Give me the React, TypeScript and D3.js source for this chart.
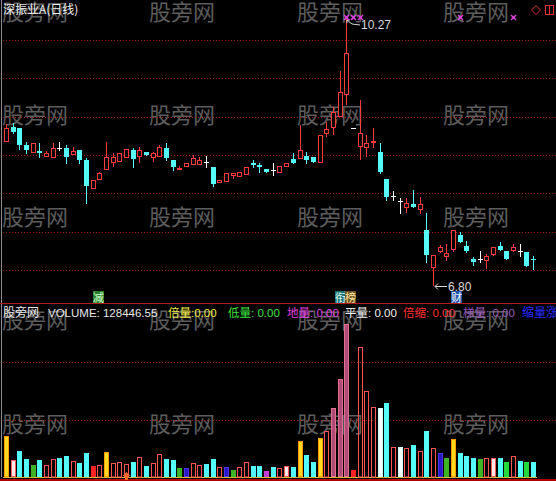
import React from 'react';
import * as d3 from 'd3';

const W = 556;
const H = 481;

// Daily candles, oldest first
const candleOpen = [
  8.67, 8.86, 8.85, 8.63, 8.53, 8.55, 8.48, 8.46, 8.59, 8.59,
  8.50, 8.57, 8.44, 8.06, 8.17, 8.31, 8.40, 8.41, 8.46, 8.57,
  8.48, 8.54, 8.46, 8.48, 8.59, 8.44, 8.32, 8.35, 8.37, 8.37,
  8.41, 8.34, 8.13, 8.15, 8.23, 8.21, 8.24, 8.40, 8.37, 8.32,
  8.30, 8.26, 8.35, 8.45, 8.45, 8.49, 8.48, 8.39, 8.77, 8.85,
  8.99, 9.28, 8.85, 8.61, 8.59, 8.65, 8.54, 8.19, 7.97, 7.90,
  7.81, 7.86, 7.79, 7.52, 7.03, 7.24, 7.17, 7.26, 7.46, 7.32,
  7.15, 7.15, 7.12, 7.20, 7.32, 7.25, 7.25, 7.25, 7.24, 7.15,
];
const candleHigh = [
  8.90, 8.92, 8.85, 8.67, 8.65, 8.65, 8.55, 8.65, 8.67, 8.63,
  8.61, 8.57, 8.46, 8.18, 8.28, 8.67, 8.53, 8.53, 8.58, 8.59,
  8.61, 8.54, 8.54, 8.63, 8.65, 8.44, 8.36, 8.39, 8.50, 8.48,
  8.49, 8.34, 8.18, 8.26, 8.26, 8.28, 8.35, 8.43, 8.40, 8.32,
  8.39, 8.36, 8.40, 8.52, 8.89, 8.54, 8.48, 8.76, 8.93, 9.12,
  9.60, 10.27, 8.85, 9.21, 8.76, 8.85, 8.66, 8.19, 8.03, 7.94,
  7.94, 8.04, 7.95, 7.75, 7.20, 7.33, 7.34, 7.52, 7.50, 7.38,
  7.17, 7.25, 7.21, 7.30, 7.37, 7.25, 7.34, 7.34, 7.24, 7.19,
];
const candleLow = [
  8.67, 8.79, 8.58, 8.53, 8.53, 8.48, 8.48, 8.46, 8.57, 8.40,
  8.50, 8.39, 7.88, 8.06, 8.17, 8.31, 8.35, 8.41, 8.46, 8.35,
  8.40, 8.50, 8.41, 8.48, 8.44, 8.31, 8.32, 8.35, 8.37, 8.37,
  8.35, 8.09, 8.13, 8.15, 8.19, 8.21, 8.24, 8.35, 8.28, 8.28,
  8.24, 8.26, 8.35, 8.40, 8.45, 8.40, 8.41, 8.39, 8.74, 8.76,
  8.99, 9.15, 8.85, 8.44, 8.48, 8.59, 8.27, 7.91, 7.92, 7.75,
  7.75, 7.82, 7.73, 7.11, 6.80, 7.23, 7.12, 7.24, 7.37, 7.24,
  7.07, 7.11, 7.02, 7.19, 7.26, 7.14, 7.24, 7.19, 7.06, 7.02,
];
const candleClose = [
  8.85, 8.80, 8.63, 8.57, 8.65, 8.53, 8.53, 8.59, 8.59, 8.48,
  8.55, 8.44, 8.09, 8.18, 8.26, 8.48, 8.48, 8.53, 8.58, 8.45,
  8.57, 8.50, 8.52, 8.61, 8.46, 8.35, 8.33, 8.39, 8.46, 8.44,
  8.41, 8.12, 8.18, 8.26, 8.26, 8.28, 8.35, 8.37, 8.34, 8.28,
  8.30, 8.36, 8.40, 8.40, 8.57, 8.44, 8.41, 8.76, 8.84, 9.06,
  9.32, 9.83, 8.85, 8.79, 8.65, 8.68, 8.28, 7.95, 7.97, 7.90,
  7.88, 7.82, 7.86, 7.20, 7.20, 7.30, 7.23, 7.52, 7.37, 7.25,
  7.11, 7.15, 7.19, 7.30, 7.26, 7.14, 7.30, 7.25, 7.06, 7.14,
];

// Daily volume (lots) and the colour class the volume indicator assigns to each day
const volumeLots = [
  356500, 148000, 226000, 157000, 104000, 148000, 104000, 157000, 165000, 183000,
  139000, 122000, 209000, 96000, 104000, 217000, 122000, 130000, 113000, 130000,
  174000, 96000, 122000, 200000, 157000, 148000, 78000, 78000, 122000, 104000,
  113000, 157000, 87000, 87000, 61000, 87000, 130000, 96000, 96000, 52000,
  87000, 78000, 96000, 87000, 313000, 191000, 130000, 339000, 400000, 600000,
  852000, 1330000, 61000, 1130000, 748000, 609000, 600000, 643000, 261000, 261000,
  252000, 278000, 226000, 400000, 252000, 209000, 165000, 330000, 209000, 183000,
  165000, 157000, 165000, 165000, 165000, 130000, 183000, 139000, 130000, 128446.55,
];
const volumeTone = [
  'gold', 'pale', 'aqua', 'aqua', 'green', 'aqua', 'hollow', 'hollow', 'aqua', 'aqua',
  'hollow', 'aqua', 'aqua', 'solid', 'hollow', 'gold', 'hollow', 'hollow', 'hollow', 'aqua',
  'hollow', 'aqua', 'hollow', 'hollow', 'aqua', 'aqua', 'green', 'blue', 'hollow', 'hollow',
  'aqua', 'aqua', 'hollow', 'blue', 'green', 'hollow', 'hollow', 'aqua', 'aqua', 'violet',
  'aqua', 'hollow', 'pale', 'aqua', 'gold', 'aqua', 'aqua', 'gold', 'hollow', 'mauve',
  'mauve', 'mauve', 'solid', 'hollow', 'hollow', 'hollow', 'white', 'aqua', 'hollow', 'white',
  'hollow', 'aqua', 'hollow', 'aqua', 'hollow', 'blue', 'green', 'gold', 'aqua', 'aqua',
  'aqua', 'green', 'hollow', 'pale', 'aqua', 'lime', 'hollow', 'aqua', 'lime', 'aqua',
];

const priceTicks = [7.0, 7.5, 8.0, 8.5, 9.0, 9.5, 10.0];
const volumeTicks = [500000, 1000000];

// Days carrying an info-mine flag, and event tags under the price panel
const infoMineDays = [51, 52, 53, 68, 76];
const tagDays = [14, 51, 67];
const tagTexts = ['减', '衔榜', '财'];
const volumeArrowDays = [18];

const legendNames = ['倍量', '低量', '地量', '平量', '倍缩', '梯量'];
const legendValues = [0, 0, 0, 0, 0, 0];
const watermarkText = '股旁网';
const title = '深振业A(日线)';

const toneStyle: Record<string, { fill: string; stroke: string; hollow?: boolean }> = {
  gold: { fill: '#ffd820', stroke: '#ff9c00' },
  pale: { fill: '#ffe6e6', stroke: '#ff5a5a' },
  aqua: { fill: '#54fcfc', stroke: '#54fcfc' },
  green: { fill: '#3cb424', stroke: '#3cb424' },
  lime: { fill: '#22d83c', stroke: '#22d83c' },
  hollow: { fill: '#000000', stroke: '#ff5454', hollow: true },
  solid: { fill: '#ff2424', stroke: '#ff2424' },
  blue: { fill: '#2a18c8', stroke: '#4a34e0' },
  mauve: { fill: '#b04a78', stroke: '#e0708e' },
  violet: { fill: '#c040d8', stroke: '#c040d8' },
  white: { fill: '#f2fffa', stroke: '#d0ffff' },
};

const tagStyle = [
  [{ bg: '#2a7f2a', fg: '#d0ffd0' }],
  [{ bg: '#1f7272', fg: '#e0ffff' }, { bg: '#6a5420', fg: '#ffe2a0' }],
  [{ bg: '#2050a8', fg: '#ffffff' }],
];

const FONT = "'Liberation Sans', 'Noto Sans CJK SC', sans-serif";
const CJK = "'Noto Sans CJK SC', sans-serif";

export default function App() {
  const days = d3.range(candleOpen.length);
  const x = d3.scalePoint<number>().domain(days).range([2.67, 536.3]).padding(0.5);
  const y = d3.scaleLinear().domain([7, 10]).range([270.2, 39.8]);
  const vBase = 477;
  const vy = d3.scaleLinear().domain([0, 1000000]).range([vBase, 362]);

  const cx = (i: number) => Math.round(x(i) as number);
  const py = (p: number) => Math.round(y(p));

  const hiIdx = d3.maxIndex(candleHigh);
  const loIdx = d3.minIndex(candleLow);

  const watermarkCols = [2, 149, 297, 443];
  const watermarkRows = [20, 123, 225, 328, 432];

  const legendX = [168, 228, 287, 345, 403, 463];
  const legendColors = ['#f0e840', '#40e040', '#e040e0', '#f0f0f0', '#ff3030', '#9a5cb8'];

  return (
    <div style={{ position: 'absolute', left: 0, top: 0, width: W, height: H, background: '#000' }}>
      <svg width={W} height={H} style={{ display: 'block' }}>
        <rect width={W} height={H} fill="#000" />

        {/* watermark grid */}
        {watermarkRows.map((ry) =>
          watermarkCols.map((rx) => (
            <text key={`${rx}-${ry}`} x={rx} y={ry} fontFamily={CJK} fontSize={22} fill="#5c5c5c">
              {watermarkText}
            </text>
          ))
        )}

        {/* dotted grid */}
        {priceTicks.map((t) => (
          <line key={`pg${t}`} x1={3} x2={W} y1={py(t) + 0.5} y2={py(t) + 0.5}
            stroke="#9a1c1c" strokeDasharray="1 2" />
        ))}
        {volumeTicks.map((t) => (
          <line key={`vg${t}`} x1={3} x2={W} y1={Math.round(vy(t)) + 0.5} y2={Math.round(vy(t)) + 0.5}
            stroke="#9a1c1c" strokeDasharray="1 2" />
        ))}

        {/* frame */}
        <line x1={1.5} x2={1.5} y1={0} y2={vBase} stroke="#8c8c8c" />
        <line x1={0} x2={W} y1={303.5} y2={303.5} stroke="#b01818" />
        <line x1={3} x2={537} y1={vBase + 0.5} y2={vBase + 0.5} stroke="#d8b838" />
        <line x1={0} x2={W} y1={480} y2={480} stroke="#b00000" strokeWidth={2} />

        {/* candles */}
        {days.map((i) => {
          const o = candleOpen[i], c = candleClose[i], h = candleHigh[i], l = candleLow[i];
          const xc = cx(i);
          const left = xc - 2;
          const yo = py(o), yc = py(c), yh = py(h), yl = py(l);
          if (c > o) {
            return (
              <g key={`c${i}`} stroke="#ff3c3c" fill="#000">
                <line x1={xc + 0.5} x2={xc + 0.5} y1={yh} y2={yc} />
                <line x1={xc + 0.5} x2={xc + 0.5} y1={yo} y2={yl} />
                <rect x={left + 0.5} y={yc + 0.5} width={4} height={Math.max(yo - yc - 1, 1)} />
              </g>
            );
          }
          if (c < o) {
            return (
              <g key={`c${i}`}>
                <line x1={xc + 0.5} x2={xc + 0.5} y1={yh} y2={yl + 1} stroke="#54fcfc" />
                <rect x={left} y={yo} width={5} height={Math.max(yc - yo, 1)} fill="#54fcfc" />
              </g>
            );
          }
          return (
            <g key={`c${i}`} stroke="#ffffff">
              {yh !== yl && <line x1={xc + 0.5} x2={xc + 0.5} y1={yh} y2={yl + 1} />}
              <line x1={left} x2={left + 5} y1={yo + 0.5} y2={yo + 0.5} />
            </g>
          );
        })}

        {/* high / low annotations */}
        <g stroke="#d8d8d8" fill="none">
          <polyline points={`${cx(hiIdx) + 1},${py(candleHigh[hiIdx]) + 1} ${cx(hiIdx) + 6},${py(candleHigh[hiIdx]) + 5} ${cx(hiIdx) + 14},${py(candleHigh[hiIdx]) + 6}`} />
          <polyline points={`${cx(hiIdx) + 4},${py(candleHigh[hiIdx]) + 1} ${cx(hiIdx) + 1},${py(candleHigh[hiIdx]) + 1} ${cx(hiIdx) + 1},${py(candleHigh[hiIdx]) + 4}`} />
          <line x1={cx(loIdx) + 2} x2={cx(loIdx) + 14} y1={py(candleLow[loIdx]) + 0.5} y2={py(candleLow[loIdx]) + 0.5} />
          <polyline points={`${cx(loIdx) + 5},${py(candleLow[loIdx]) - 2.5} ${cx(loIdx) + 2},${py(candleLow[loIdx]) + 0.5} ${cx(loIdx) + 5},${py(candleLow[loIdx]) + 3.5}`} />
        </g>
        <text x={cx(hiIdx) + 15} y={py(candleHigh[hiIdx]) + 10} fontFamily={FONT} fontSize={12} fill="#d8d8d8">
          {candleHigh[hiIdx].toFixed(2)}
        </text>
        <text x={cx(loIdx) + 15} y={py(candleLow[loIdx]) + 4.5} fontFamily={FONT} fontSize={12} fill="#d8d8d8">
          {candleLow[loIdx].toFixed(2)}
        </text>

        {/* info-mine flags */}
        {infoMineDays.map((d) => {
          const xc = cx(d) + 0.5;
          const yc = 17.5;
          return (
            <g key={`m${d}`} stroke="#e040e0" strokeWidth={1.4}>
              <line x1={xc - 2.5} x2={xc + 2.5} y1={yc - 2.5} y2={yc + 2.5} />
              <line x1={xc - 2.5} x2={xc + 2.5} y1={yc + 2.5} y2={yc - 2.5} />
              <rect x={xc - 1} y={yc - 1} width={2} height={2} fill="#e040e0" stroke="none" />
            </g>
          );
        })}

        {/* title and corner icons */}
        <text x={3} y={14} fontFamily={CJK} fontSize={12} fill="#f0f0f0">{title}</text>
        <g stroke="#e03030" fill="none">
          <polygon points="536,5.5 540.5,10 536,14.5 531.5,10" />
          <rect x={545.5} y={5.5} width={8} height={9} />
          <line x1={549.5} x2={549.5} y1={5.5} y2={14.5} />
        </g>

        {/* event tags */}
        {tagDays.map((d, k) => {
          const chars = Array.from(tagTexts[k]);
          const total = chars.length * 11;
          const start = cx(d) - Math.round(total / 2) + (k === 2 ? 4 : 0);
          return (
            <g key={`t${d}`}>
              {chars.map((ch, j) => (
                <g key={j}>
                  <rect x={start + j * 10} y={291} width={11} height={12} fill={tagStyle[k][j].bg} />
                  <text x={start + j * 10 + 5.5} y={301.5} textAnchor="middle" fontFamily={CJK}
                    fontSize={11} fill={tagStyle[k][j].fg}>{ch}</text>
                </g>
              ))}
            </g>
          );
        })}

        {/* volume bars */}
        {days.map((i) => {
          const st = toneStyle[volumeTone[i]];
          const xc = cx(i);
          const left = xc - 2;
          const top = Math.round(vy(volumeLots[i]));
          const hgt = vBase - top;
          if (st.hollow) {
            return (
              <rect key={`v${i}`} x={left + 0.5} y={top + 0.5} width={4} height={Math.max(hgt - 0.5, 1)}
                fill="none" stroke={st.stroke} />
            );
          }
          return (
            <g key={`v${i}`}>
              <rect x={left} y={top} width={5} height={hgt} fill={st.fill} />
              <rect x={left + 0.5} y={top + 0.5} width={4} height={Math.max(hgt - 1, 1)} fill="none" stroke={st.stroke} />
            </g>
          );
        })}
        {volumeArrowDays.map((d) => {
          const xc = cx(d) + 0.5;
          return (
            <polygon key={`a${d}`} fill="#ff6a2a"
              points={`${xc},472 ${xc + 4},476 ${xc + 1.5},476 ${xc + 1.5},480 ${xc - 1.5},480 ${xc - 1.5},476 ${xc - 4},476`} />
          );
        })}

        {/* indicator legend */}
        <text x={3} y={317} fontFamily={CJK} fontSize={12} fill="#e8e8e8">{watermarkText}</text>
        <text x={48} y={317} fontFamily={FONT} fontSize={11.5} fill="#e8e8e8">
          {`VOLUME: ${volumeLots[volumeLots.length - 1].toFixed(2)}`}
        </text>
        {legendNames.map((n, k) => (
          <text key={n} x={legendX[k]} y={317} fontFamily={FONT} fontSize={11.5} fill={legendColors[k]}>
            {`${n}:${k === 0 ? '' : ' '}${legendValues[k].toFixed(2)}`}
          </text>
        ))}
        <text x={522} y={317} fontFamily={CJK} fontSize={12} fill="#2a2aff">缩量涨</text>
      </svg>
    </div>
  );
}
